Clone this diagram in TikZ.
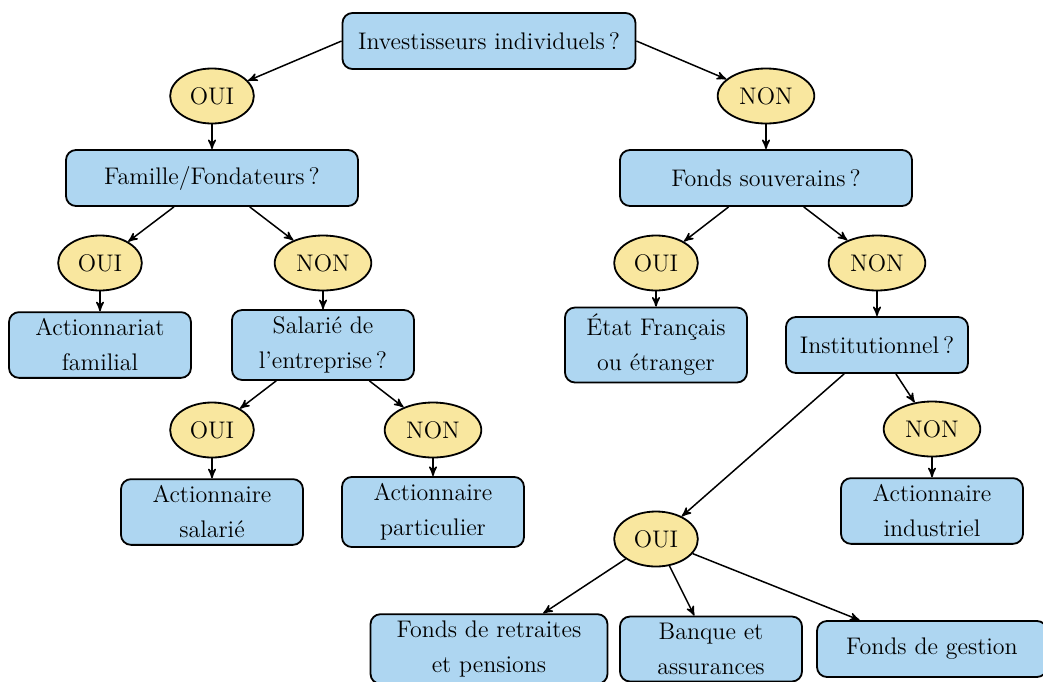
\documentclass[tikz,border=0pt]{standalone}
\usepackage{amsmath, amssymb}
\usepackage{tikz}
\usetikzlibrary{shapes.geometric, arrows}
\definecolor{boxblue}{HTML}{AED6F1}
\definecolor{ansyellow}{HTML}{F9E79F}

\begin{document}
\begin{tikzpicture}[->,>=stealth',line width=0.75pt,node distance=41pt]
                \tikzstyle{question}=[rectangle,rounded corners=5pt,fill=boxblue,draw=black,line width=0.9pt,text=black,align=center,
                    minimum width=91pt,minimum height=28pt,inner xsep=5pt,font=\fontsize{12}{17.5}\selectfont]
                \tikzstyle{answer}=[ellipse,fill=ansyellow,draw=black,line width=0.9pt,text=black,
                    minimum height=27.5pt,inner xsep=3.7pt,inner ysep=2pt,font=\fontsize{12}{14}\selectfont]
                \useasboundingbox (-244.5pt,20.5pt) rectangle (277pt,-320pt);

                \node[question, minimum width=146.5pt] (root) at (0,0)  {Investisseurs individuels\,?};
                \node[answer] (ouiA) at (-138.5pt,-27.5pt)               {OUI};
                \node[answer] (nonA) at (138.5pt,-27.5pt)                {NON};

                % branche gauche
                \node[question, minimum width=146pt] (fam) [below of=ouiA] {Famille/Fondateurs\,?};
                \node[answer] (ouiB) [below of=fam, node distance=42.5pt, xshift=-56pt]  {OUI};
                \node[answer] (nonB) [below of=fam, node distance=42.5pt, xshift=55.5pt] {NON};
                \node[question] (actfam) [below of=ouiB]                 {Actionnariat\\familial};
                \node[question] (sal)    [below of=nonB]                 {Salarié de\\l'entreprise\,?};
                \node[answer] (ouiC) [below of=sal, node distance=42.5pt, xshift=-55.5pt] {OUI};
                \node[answer] (nonC) [below of=sal, node distance=42.5pt, xshift=55pt]    {NON};
                \node[question] (actsal)  [below of=ouiC]                {Actionnaire\\salarié};
                \node[question] (actpart) [below of=nonC]                {Actionnaire\\particulier};

                % branche droite
                \node[question, minimum width=146pt] (souv) [below of=nonA] {Fonds souverains\,?};
                \node[answer] (ouiD) [below of=souv, node distance=42.5pt, xshift=-55pt]  {OUI};
                \node[answer] (nonD) [below of=souv, node distance=42.5pt, xshift=55.5pt] {NON};
                \node[question] (etat) [below of=ouiD]                   {État Français\\ou étranger};
                \node[question] (inst) [below of=nonD]                   {Institutionnel\,?};
                \node[answer] (nonE) [below of=inst, node distance=42pt, xshift=27.5pt]  {NON};
                \node[question] (actind) [below of=nonE]                 {Actionnaire\\industriel};
                \node[answer] (ouiE) [below of=inst, node distance=97pt, xshift=-110.5pt] {OUI};
                \node[question, minimum width=118.5pt] (retr) [below of=ouiE, node distance=55pt, xshift=-83.5pt] {Fonds de retraites\\et pensions};
                \node[question] (banq) [below of=ouiE, node distance=55pt, xshift=27.5pt]  {Banque et\\assurances};
                \node[question, minimum width=115pt] (gest) [below of=ouiE, node distance=55pt, xshift=138pt] {Fonds de gestion};

                \path
                (root.west) edge (ouiA)
                (root.east) edge (nonA)
                (ouiA) edge (fam)
                (nonA) edge (souv)
                (fam)  edge (ouiB)
                       edge (nonB)
                (ouiB) edge (actfam)
                (nonB) edge (sal)
                (sal)  edge (ouiC)
                       edge (nonC)
                (ouiC) edge (actsal)
                (nonC) edge (actpart)
                (souv) edge (ouiD)
                       edge (nonD)
                (ouiD) edge (etat)
                (nonD) edge (inst)
                (inst) edge (nonE)
                       edge (ouiE)
                (nonE) edge (actind)
                (ouiE) edge (retr)
                       edge (banq)
                       edge (gest);
            \end{tikzpicture}
\end{document}
